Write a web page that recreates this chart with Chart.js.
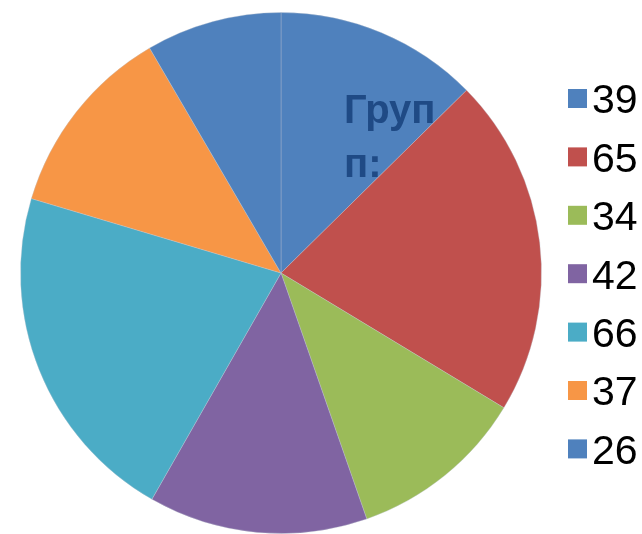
<!DOCTYPE html>
<html>
<head>
<meta charset="utf-8">
<script src="https://cdn.jsdelivr.net/npm/chart.js@4"></script>
<style>
  html, body { margin: 0; padding: 0; background: #fff; }
  #wrap { width: 642px; height: 534px; position: relative; }
</style>
</head>
<body>
<div id="wrap"><canvas id="pieChart"></canvas></div>
<script>
// Categories and values
const categories = ['39', '65', '34', '42', '66', '37', '26'];
const values = [39, 65, 34, 42, 66, 37, 26];
const sliceColors = ['#4F81BD', '#C0504D', '#9BBB59', '#8064A2', '#4BACC6', '#F79646', '#4F81BD'];
const labelLines = ['Груп', 'п:'];

// Legend drawn on the right, cut off by the canvas edge like the original
const sideLegend = {
    id: 'sideLegend',
    afterDraw(chart) {
        const ctx = chart.ctx;
        const ds = chart.data.datasets[0];
        ctx.save();
        ctx.font = '41px "Liberation Sans", Arial, sans-serif';
        ctx.textBaseline = 'middle';
        chart.data.labels.forEach((label, i) => {
            const y = 102 + i * 58.4;
            ctx.fillStyle = ds.backgroundColor[i];
            ctx.fillRect(568, y - 13, 19, 19);
            ctx.fillStyle = '#000';
            ctx.fillText(label, 592, y);
        });
        ctx.restore();
    }
};

// Overlapping (truncated) data label in the first slice
const groupLabel = {
    id: 'groupLabel',
    afterDatasetsDraw(chart) {
        const arc = chart.getDatasetMeta(0).data[0];
        const ctx = chart.ctx;
        ctx.save();
        ctx.font = 'bold 40px "Liberation Sans", Arial, sans-serif';
        ctx.fillStyle = '#1F4A85';
        ctx.textBaseline = 'alphabetic';
        ctx.fillText(labelLines[0], arc.x + 63, arc.y - 150);
        ctx.fillText(labelLines[1], arc.x + 63, arc.y - 96);
        ctx.restore();
    }
};

document.addEventListener('DOMContentLoaded', () => {
    const ctx = document.getElementById('pieChart').getContext('2d');
    new Chart(ctx, {
        type: 'pie',
        data: {
            labels: categories,
            datasets: [{
                data: values,
                backgroundColor: sliceColors,
                borderColor: 'rgba(190,198,210,0.35)',
                borderWidth: 1
            }]
        },
        options: {
            responsive: true,
            maintainAspectRatio: false,
            animation: false,
            layout: { padding: { left: 20, right: 100, top: 12, bottom: 0 } },
            plugins: {
                legend: { display: false },
                tooltip: { enabled: false }
            }
        },
        plugins: [groupLabel, sideLegend]
    });
});
</script>
</body>
</html>
